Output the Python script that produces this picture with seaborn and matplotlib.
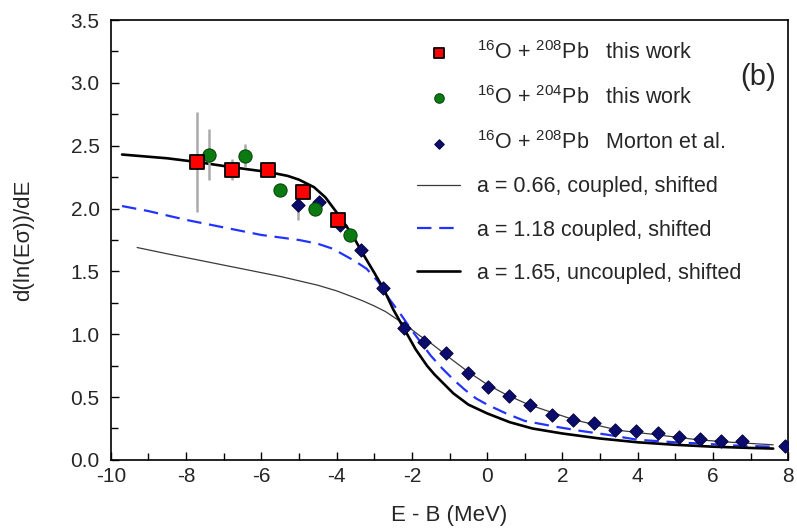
import numpy as np
import pandas as pd
import matplotlib
matplotlib.use("Agg")
import matplotlib.pyplot as plt
from matplotlib.ticker import MultipleLocator, FormatStrFormatter
import seaborn as sns

# data
sq_x = [-7.72, -6.77, -5.82, -4.89, -3.95]
sq_y = [2.37, 2.31, 2.31, 2.13, 1.91]
sq_err = [0.40, 0.085, 0.0, 0.0, 0.0]

ci_x = [-7.39, -6.44, -5.51, -4.57, -3.64]
ci_y = [2.43, 2.42, 2.15, 2.00, 1.79]
ci_err = [0.20, 0.09, 0.0, 0.0, 0.0]

di_x = [-5.02, -4.47, -3.91, -3.35, -2.77, -2.21, -1.67, -1.09, -0.51, 0.03,
        0.59, 1.14, 1.72, 2.28, 2.83, 3.40, 3.96, 4.53, 5.09, 5.65, 6.21, 6.77, 7.91]
di_y = [2.03, 2.05, 1.87, 1.67, 1.37, 1.05, 0.94, 0.85, 0.69, 0.58,
        0.51, 0.44, 0.36, 0.32, 0.29, 0.24, 0.23, 0.21, 0.18, 0.17, 0.15, 0.15, 0.11]
di_err = [0.12] + [0.0] * 22

thin_x = [-9.3, -8.5, -7.5, -6.5, -5.5, -5.0, -4.5, -4.0, -3.6, -3.3, -3.0, -2.7,
          -2.4, -2.1, -1.8, -1.5, -1.2, -0.9, -0.5, 0.0, 0.5, 1.1, 1.7, 2.3,
          3.0, 3.5, 4.5, 5.6, 6.5, 7.6]
thin_y = [1.69, 1.64, 1.58, 1.52, 1.46, 1.425, 1.39, 1.345, 1.30, 1.265, 1.225, 1.18,
          1.12, 1.06, 0.99, 0.93, 0.86, 0.79, 0.70, 0.60, 0.52, 0.44, 0.38, 0.32,
          0.27, 0.235, 0.20, 0.16, 0.14, 0.12]

dash_x = [-9.7, -9.0, -8.0, -7.0, -6.0, -5.0, -4.5, -4.1, -3.8, -3.5, -3.2, -2.9,
          -2.6, -2.3, -2.0, -1.7, -1.5, -1.2, -0.9, -0.6, -0.3, 0.0, 0.5, 1.0,
          1.8, 2.5, 3.2, 4.0, 5.0, 5.7, 6.5, 7.6]
dash_y = [2.02, 1.98, 1.91, 1.85, 1.79, 1.75, 1.72, 1.68, 1.63, 1.58, 1.52, 1.42,
          1.28, 1.16, 1.03, 0.91, 0.83, 0.73, 0.64, 0.56, 0.49, 0.44, 0.37, 0.31,
          0.265, 0.23, 0.20, 0.16, 0.14, 0.13, 0.115, 0.105]

thick_x = [-9.7, -8.5, -7.7, -6.8, -5.8, -5.3, -5.0, -4.6, -4.3, -4.0, -3.6, -3.3,
           -3.0, -2.75, -2.5, -2.2, -1.9, -1.6, -1.4, -1.2, -0.9, -0.5, 0.0, 0.6,
           1.2, 2.0, 3.0, 4.0, 5.0, 6.0, 7.0, 7.6]
thick_y = [2.43, 2.40, 2.37, 2.33, 2.29, 2.26, 2.23, 2.17, 2.09, 1.97, 1.80, 1.64,
           1.49, 1.36, 1.20, 1.04, 0.88, 0.75, 0.68, 0.62, 0.53, 0.44, 0.37, 0.30,
           0.25, 0.21, 0.17, 0.14, 0.12, 0.105, 0.095, 0.09]

sns.set_style("ticks")
plt.rcParams['font.family'] = ['Liberation Sans', 'DejaVu Sans']
plt.rcParams['mathtext.fontset'] = 'custom'
plt.rcParams['mathtext.rm'] = 'Liberation Sans'
plt.rcParams['axes.unicode_minus'] = False

fig = plt.figure(figsize=(7.97, 5.28), dpi=100)
ax = fig.add_axes([0.139, 0.129, 0.850, 0.833])

sns.lineplot(x=thin_x, y=thin_y, ax=ax, color='#3a3a3a', linewidth=0.9,
             label='a = 0.66, coupled, shifted', zorder=2)
sns.lineplot(x=dash_x, y=dash_y, ax=ax, color='#2233ff', linewidth=1.6,
             dashes=(6.5, 3.5), label='a = 1.18 coupled, shifted', zorder=2)
sns.lineplot(x=thick_x, y=thick_y, ax=ax, color='black', linewidth=1.9,
             label='a = 1.65, uncoupled, shifted', zorder=2)

# error bars
for xs, ys, es in [(sq_x, sq_y, sq_err), (ci_x, ci_y, ci_err), (di_x, di_y, di_err)]:
    ax.errorbar(xs, ys, yerr=es, fmt='none', ecolor='#aaaaaa', elinewidth=1.8, zorder=3)

sns.scatterplot(x=di_x, y=di_y, ax=ax, marker='D', s=45, color='#0c0c6e',
                edgecolor='#050540', linewidth=0.8, zorder=4,
                label=r'$^{16}$O + $^{208}$Pb   Morton et al.')
sns.scatterplot(x=ci_x, y=ci_y, ax=ax, marker='o', s=90, color='#0b7a12',
                edgecolor='#064a0a', linewidth=0.8, zorder=5,
                label=r'$^{16}$O + $^{204}$Pb   this work')
sns.scatterplot(x=sq_x, y=sq_y, ax=ax, marker='s', s=105, color='#ff0000',
                edgecolor='black', linewidth=1.3, zorder=6,
                label=r'$^{16}$O + $^{208}$Pb   this work')

ax.set_xlim(-10, 8)
ax.set_ylim(0, 3.5)
ax.xaxis.set_major_locator(MultipleLocator(2))
ax.xaxis.set_minor_locator(MultipleLocator(1))
ax.yaxis.set_major_locator(MultipleLocator(0.5))
ax.yaxis.set_minor_locator(MultipleLocator(0.25))
ax.yaxis.set_major_formatter(FormatStrFormatter('%.1f'))
ax.tick_params(which='both', direction='in', width=1.0, labelsize=15, color='black',
               top=False, right=False)
ax.tick_params(which='major', length=6)
ax.tick_params(which='minor', length=5)
ax.tick_params(axis='x', pad=5)
ax.tick_params(axis='y', pad=8)
for sp in ax.spines.values():
    sp.set_visible(True)
    sp.set_linewidth(1.2)
    sp.set_color('black')

ax.set_xlabel('E - B (MeV)', fontsize=16, labelpad=14)
ax.set_ylabel('d(ln(E\u03c3))/dE', fontsize=16, labelpad=26)

handles, labels = ax.get_legend_handles_labels()
order = [5, 4, 3, 0, 1, 2]
ax.legend([handles[i] for i in order], [labels[i] for i in order],
          loc='upper left', bbox_to_anchor=(0.452, 0.952), frameon=False,
          fontsize=15.5, handlelength=2.0, handletextpad=0.8, labelspacing=1.03,
          borderpad=0, borderaxespad=0, markerscale=0.72)

ax.text(0.956, 0.87, '(b)', transform=ax.transAxes, fontsize=21,
        ha='center', va='center')

fig.savefig('out.png', dpi=100)
